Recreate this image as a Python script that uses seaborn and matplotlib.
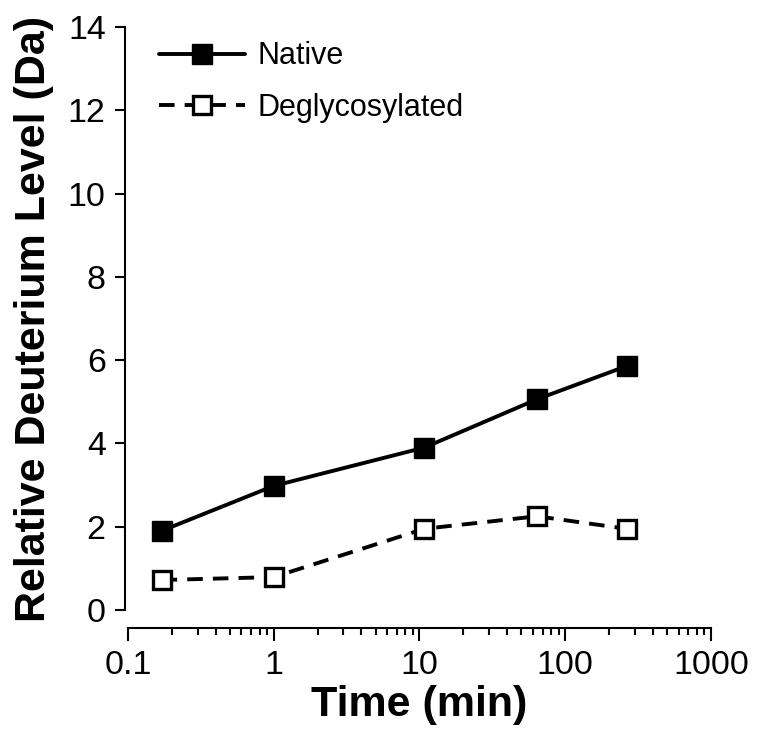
import matplotlib
matplotlib.use('Agg')
import matplotlib.pyplot as plt
import seaborn as sns

# time points (min) and deuterium uptake (Da)
time_min = [0.17, 1, 10.8, 64, 265]
native = [1.9, 2.98, 3.9, 5.06, 5.86]
deglycosylated = [0.72, 0.79, 1.95, 2.25, 1.95]

x_ticks = [0.1, 1, 10, 100, 1000]
x_tick_labels = ['0.1', '1', '10', '100', '1000']
y_ticks = [0, 2, 4, 6, 8, 10, 12, 14]

sns.set_style('ticks')
plt.rcParams['font.family'] = ['Liberation Sans', 'DejaVu Sans']
plt.rcParams['text.color'] = 'black'
plt.rcParams['axes.labelcolor'] = 'black'

fig = plt.figure(figsize=(7.77, 7.41), dpi=100)
ax = fig.add_axes([0.1647, 0.1768, 0.7503, 0.7868])

sns.lineplot(x=time_min, y=native, ax=ax, color='black', lw=2.8,
             marker='s', markersize=14.5, markerfacecolor='black',
             markeredgecolor='black', markeredgewidth=1, label='Native')
sns.lineplot(x=time_min, y=deglycosylated, ax=ax, color='black', lw=2.8,
             linestyle=(0, (4, 2.6)), marker='s', markersize=13,
             markerfacecolor='white', markeredgecolor='black',
             markeredgewidth=2.4, label='Deglycosylated')

ax.set_xscale('log')
ax.set_xlim(0.1, 1000)
ax.set_ylim(0, 14)
ax.set_xticks(x_ticks)
ax.set_xticklabels(x_tick_labels)
ax.set_yticks(y_ticks)
ax.set_yticklabels([str(v) for v in y_ticks])

ax.tick_params(axis='both', which='major', labelsize=24.5, width=1.5,
               length=7, color='black', labelcolor='black')
ax.tick_params(axis='x', which='major', length=9, pad=7)
ax.tick_params(axis='x', which='minor', length=5, width=1.5, color='black')
ax.tick_params(axis='y', which='major', pad=7)

for side in ['top', 'right']:
    ax.spines[side].set_visible(False)
for side in ['left', 'bottom']:
    ax.spines[side].set_linewidth(1.5)
    ax.spines[side].set_color('black')
ax.spines['bottom'].set_position(('outward', 13))
ax.spines['left'].set_position(('outward', 2))

ax.set_xlabel('Time (min)', fontsize=31, fontweight='bold', labelpad=3)
ax.set_ylabel('Relative Deuterium Level (Da)', fontsize=31,
              fontweight='bold', labelpad=10)

leg = ax.legend(loc='upper left', bbox_to_anchor=(0.017, 1.012), frameon=False,
                fontsize=22, handlelength=2.8, handletextpad=0.4,
                labelspacing=0.7, borderaxespad=0.3)
for txt in leg.get_texts():
    txt.set_color('black')

fig.savefig('out.png', dpi=100)
